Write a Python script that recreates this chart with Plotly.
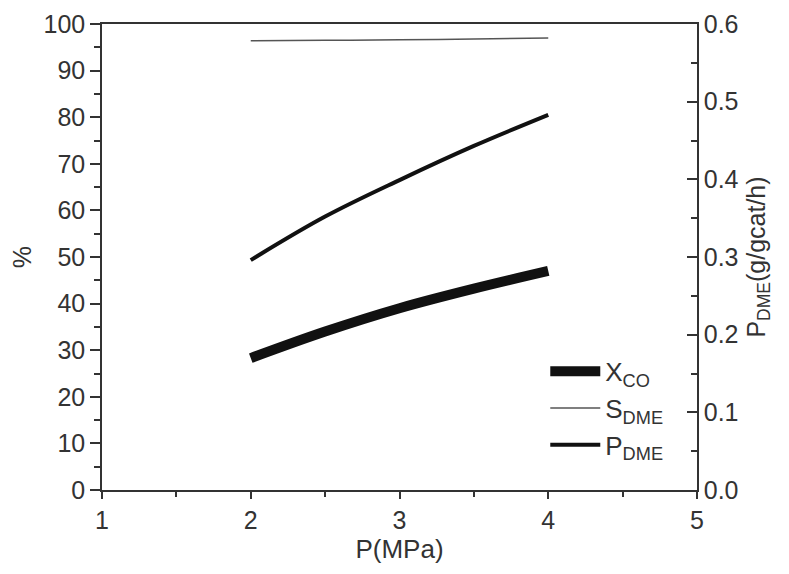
import plotly.graph_objects as go

pressure = [2.0, 2.5, 3.0, 3.5, 4.0]
x_co = [28.3, 34.0, 39.0, 43.2, 47.0]
s_dme = [96.4, 96.5, 96.6, 96.8, 97.0]
p_dme = [0.296, 0.352, 0.399, 0.443, 0.483]

FONT = "Liberation Sans, Arial, sans-serif"
AX = "#333333"

fig = go.Figure()
fig.add_trace(go.Scatter(x=pressure, y=x_co, mode="lines", name="X<sub>CO</sub>",
                         line=dict(color="#111111", width=10, shape="spline"), yaxis="y"))
fig.add_trace(go.Scatter(x=pressure, y=s_dme, mode="lines", name="S<sub>DME</sub>",
                         line=dict(color="#555555", width=1.5, shape="spline"), yaxis="y"))
fig.add_trace(go.Scatter(x=pressure, y=p_dme, mode="lines", name="P<sub>DME</sub>",
                         line=dict(color="#111111", width=4, shape="spline"), yaxis="y2"))

fig.update_layout(
    width=789, height=574,
    margin=dict(l=94, r=100, t=16, b=92, autoexpand=False),
    paper_bgcolor="white", plot_bgcolor="white",
    font=dict(family=FONT, size=25, color=AX),
    showlegend=True,
    legend=dict(x=0.745, y=0.305, xanchor="left", yanchor="top",
                bgcolor="rgba(0,0,0,0)", font=dict(size=26, color=AX),
                itemwidth=50, tracegroupgap=0),
    xaxis=dict(range=[1, 5], dtick=1, tick0=1, ticks="outside", ticklen=7, tickwidth=1.5,
               tickcolor=AX, showline=True, linecolor=AX, linewidth=1.5, mirror=True,
               showgrid=False, zeroline=False,
               minor=dict(dtick=0.5, ticks="outside", ticklen=5, tickcolor=AX, tickwidth=1.5),
               title=dict(text="P(MPa)", font=dict(size=26), standoff=6)),
    yaxis=dict(range=[0, 100], dtick=10, ticks="outside", ticklen=10, tickwidth=1.5,
               tickcolor=AX, showline=True, linecolor=AX, linewidth=1.5,
               showgrid=False, zeroline=False,
               minor=dict(dtick=5, ticks="outside", ticklen=6, tickcolor=AX, tickwidth=1.5),
               title=dict(text="%", font=dict(size=25), standoff=14)),
    yaxis2=dict(range=[0, 0.6], dtick=0.1, tickformat=".1f", overlaying="y", side="right",
                ticks="inside", ticklen=10, tickwidth=1.5, tickcolor=AX,
                showline=True, linecolor=AX, linewidth=1.5,
                showgrid=False, zeroline=False,
                minor=dict(dtick=0.05, ticks="inside", ticklen=6, tickcolor=AX, tickwidth=1.5),
                title=dict(text="P<sub>DME</sub>(g/gcat/h)", font=dict(size=25), standoff=10)),
)

fig.write_html("out.html")
